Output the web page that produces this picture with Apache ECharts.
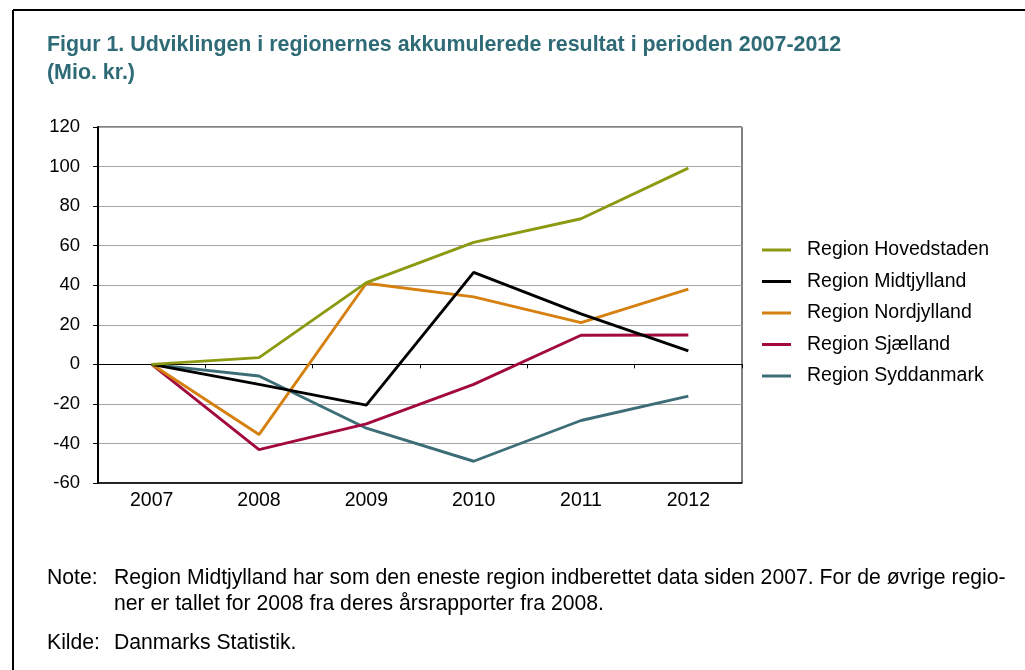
<!DOCTYPE html>
<html>
<head>
<meta charset="utf-8">
<script src="https://cdn.jsdelivr.net/npm/echarts@6/dist/echarts.min.js"></script>
<style>
html,body{margin:0;padding:0;background:#fff;}
#chart{width:1025px;height:670px;}
</style>
</head>
<body>
<div id="chart"></div>
<script>
var years = ['2007', '2008', '2009', '2010', '2011', '2012'];
var yTicks = [-60, -40, -20, 0, 20, 40, 60, 80, 100, 120];
var seriesNames = ['Region Hovedstaden', 'Region Midtjylland', 'Region Nordjylland', 'Region Sjælland', 'Region Syddanmark'];
var hovedstaden = [0, 3.4, 41.3, 61.7, 73.6, 99.2];
var midtjylland = [0, -10.1, -20.6, 46.5, 25.5, 6.8];
var nordjylland = [0, -35.5, 41.0, 34.1, 21.1, 38.0];
var sjaelland = [0, -43.1, -30.1, -10.1, 14.7, 14.8];
var syddanmark = [0, -5.9, -32.3, -49.0, -28.4, -16.1];
var colors = ['#8C9A12', '#000000', '#D5800F', '#A2093F', '#3D6E78'];

var titleLines = ['Figur 1. Udviklingen i regionernes akkumulerede resultat i perioden 2007-2012', '(Mio. kr.)'];
var noteLabel = 'Note:';
var noteLines = ['Region Midtjylland har som den eneste region indberettet data siden 2007. For de øvrige regio-', 'ner er tallet for 2008 fra deres årsrapporter fra 2008.'];
var sourceLabel = 'Kilde:';
var sourceText = 'Danmarks Statistik.';

var allData = [hovedstaden, midtjylland, nordjylland, sjaelland, syddanmark];
var font = '"Liberation Sans", Arial, sans-serif';

var chart = echarts.init(document.getElementById('chart'), null, {renderer: 'canvas'});

var series = seriesNames.map(function (n, i) {
  return {
    name: n,
    type: 'line',
    data: allData[i],
    showSymbol: false,
    symbol: 'none',
    lineStyle: {width: 2.9, color: colors[i]},
    itemStyle: {color: colors[i]},
    xAxisIndex: 0,
    yAxisIndex: 0,
    z: 3 + (4 - i)
  };
});

function txt(x, y, s, f, color) {
  return {type: 'text', x: x, y: y, style: {text: s, font: f, fill: color, verticalAlign: 'middle', align: 'left'}};
}

var option = {
  backgroundColor: '#fff',
  animation: false,
  grid: {
    left: 98, right: 283, top: 127, bottom: 187,
    show: true, borderColor: '#000', borderWidth: 1, backgroundColor: 'transparent'
  },
  legend: {
    orient: 'vertical',
    left: 757,
    top: 235,
    icon: 'rect',
    itemWidth: 29,
    itemHeight: 3,
    itemGap: 11.5,
    data: seriesNames,
    textStyle: {fontFamily: font, fontSize: 19.5, color: '#000', lineHeight: 20, padding: [0, 0, 0, 11]}
  },
  xAxis: [
    {
      type: 'category',
      data: years,
      position: 'bottom',
      boundaryGap: true,
      axisLine: {onZero: false, lineStyle: {color: '#000', width: 1.5}},
      axisTick: {show: false},
      axisLabel: {fontFamily: font, fontSize: 19.5, color: '#000', margin: 8},
      splitLine: {show: false}
    },
    {
      type: 'category',
      data: years,
      position: 'bottom',
      boundaryGap: true,
      axisLine: {onZero: true, lineStyle: {color: '#000', width: 1}},
      axisTick: {show: true, length: 4, lineStyle: {color: '#000', width: 1}},
      axisLabel: {show: false},
      splitLine: {show: false}
    }
  ],
  yAxis: {
    type: 'value',
    min: -60,
    max: 120,
    interval: 20,
    axisLine: {show: true, lineStyle: {color: '#000', width: 2}},
    axisTick: {show: true, length: 5, lineStyle: {color: '#000', width: 1}},
    axisLabel: {fontFamily: font, fontSize: 18.5, color: '#000', margin: 18},
    splitLine: {show: true, lineStyle: {color: '#A6A6A6', width: 1}}
  },
  series: series,
  graphic: [
    {type: 'line', shape: {x1: 13, y1: 10, x2: 1025, y2: 10}, style: {stroke: '#000', lineWidth: 2}},
    {type: 'line', shape: {x1: 13, y1: 10, x2: 13, y2: 670}, style: {stroke: '#000', lineWidth: 2}},
    txt(47, 45, titleLines[0], 'bold 21.4px ' + font, '#2E6B76'),
    txt(47, 73, titleLines[1], 'bold 21.4px ' + font, '#2E6B76'),
    txt(47, 578, noteLabel, '21.2px ' + font, '#000'),
    txt(114, 578, noteLines[0], '21.2px ' + font, '#000'),
    txt(114, 604, noteLines[1], '21.2px ' + font, '#000'),
    txt(47, 643, sourceLabel, '21.2px ' + font, '#000'),
    txt(114, 643, sourceText, '21.2px ' + font, '#000')
  ]
};
chart.setOption(option);
</script>
</body>
</html>
